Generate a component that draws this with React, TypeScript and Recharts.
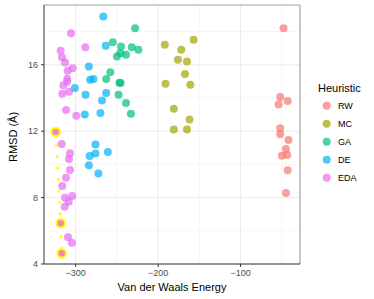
import { ScatterChart, Scatter, XAxis, YAxis, CartesianGrid, ReferenceLine, Label } from "recharts";

const heuristics = ["RW", "MC", "GA", "DE", "EDA"];
const colors = ["#F8766D", "#A3A500", "#00BF7D", "#00B0F6", "#E76BF3"];

const rwEnergy = [-48, -52, -43, -54, -52, -52, -42, -45, -50, -43.5, -43, -45];
const rwRmsd = [18.2, 14.06, 13.82, 13.6, 12.17, 11.81, 11.47, 10.93, 10.52, 10.57, 9.64, 8.28];

const mcEnergy = [-192, -157, -172, -176, -165, -167.5, -191, -161, -181, -162, -181, -165];
const mcRmsd = [17.2, 17.5, 16.9, 16.3, 16.2, 15.45, 14.85, 14.8, 13.35, 12.7, 12.1, 12.1];

const gaEnergy = [-228, -255, -245, -232, -224, -246, -239, -250, -258, -263, -247, -245.5, -248, -239, -233];
const gaRmsd = [18.2, 17.35, 17.1, 17.05, 16.9, 16.7, 16.6, 16.5, 15.55, 15.15, 14.92, 14.9, 14.2, 13.7, 13.05];

const deEnergy = [-266.5, -263.5, -284, -282.5, -278.5, -301, -263, -288, -268, -270, -289, -276, -261, -276, -283, -284, -272.5];
const deRmsd = [18.9, 17.15, 15.9, 15.1, 15.15, 14.6, 14.3, 14.2, 13.85, 13.1, 13, 11.2, 10.75, 10.65, 10.5, 9.95, 9.45];

const edaEnergy = [-305.7, -288.3, -318.2, -316.6, -312.9, -309.7, -303.6, -310.2, -310.2, -315, -316.2, -308.1, -311.7, -299.2, -316.9, -306.9, -308.1, -306.9, -311.7, -316.2, -312.9, -304.1, -308.5, -313.3, -309.3, -304.5];
const edaRmsd = [17.9, 17.05, 16.85, 16.45, 16.13, 15.64, 15.79, 15.16, 14.98, 14.77, 14.26, 14.38, 13.28, 12.93, 11.23, 10.67, 10.33, 9.66, 9.2, 8.7, 7.99, 8.1, 7.75, 7.45, 5.61, 5.28];

// best runs, ringed in yellow and joined by a dotted path
const bestEnergy = [-324.2, -318.2, -316.9];
const bestRmsd = [11.95, 6.45, 4.64];

const xTicks = [-300, -200, -100];
const yTicks = [4, 8, 12, 16];
const xMinor = [-250, -150, -50];
const yMinor = [6, 10, 14, 18];

const xDomain = [-338.4, -28];
const yDomain = [4, 19.6];

const zip = (xs: number[], ys: number[]) => xs.map((x, i) => ({ energy: x, rmsd: ys[i] }));

const series = [
  zip(rwEnergy, rwRmsd),
  zip(mcEnergy, mcRmsd),
  zip(gaEnergy, gaRmsd),
  zip(deEnergy, deRmsd),
  zip(edaEnergy, edaRmsd),
];
const best = zip(bestEnergy, bestRmsd);

const font = "'Liberation Sans', Arial, sans-serif";
const minus = (v: number) => String(v).replace("-", "\u2212");

const dot = (color: string) => (p: any) => (
  <circle cx={p.cx} cy={p.cy} r={4} fill={color} fillOpacity={0.7} stroke="none" />
);

const bestDot = (p: any) => (
  <circle cx={p.cx} cy={p.cy} r={4.3} fill="#EE8EA4" stroke="#FFFF00" strokeWidth={2} />
);

export default function App() {
  return (
    <div style={{ position: "absolute", left: 0, top: 0, width: 374, height: 299, background: "#fff" }}>
      <ScatterChart width={374} height={299} margin={{ top: 5, right: 74, left: 0, bottom: 0 }}>
        <CartesianGrid
          horizontalValues={yMinor}
          verticalValues={xMinor}
          stroke="#F2F2F2"
          strokeWidth={0.8}
        />
        <CartesianGrid
          horizontalValues={yTicks}
          verticalValues={xTicks}
          stroke="#EBEBEB"
          strokeWidth={1}
        />
        <XAxis
          type="number"
          dataKey="energy"
          domain={xDomain}
          ticks={xTicks}
          allowDataOverflow
          height={35}
          tickSize={3}
          tickMargin={3}
          tickFormatter={minus}
          stroke="#333"
          tick={{ fill: "#4D4D4D", fontSize: 9, fontFamily: font }}
        >
          <Label
            content={() => (
              <text x={172} y={291} textAnchor="middle" fontSize={11} fontFamily={font} fill="#000">
                Van der Waals Energy
              </text>
            )}
          />
        </XAxis>
        <YAxis
          type="number"
          dataKey="rmsd"
          domain={yDomain}
          ticks={yTicks}
          allowDataOverflow
          width={44}
          tickSize={3}
          tickMargin={3}
          stroke="#333"
          tick={{ fill: "#4D4D4D", fontSize: 9, fontFamily: font }}
        >
          <Label
            content={() => (
              <text
                x={14}
                y={137}
                transform="rotate(-90 14 137)"
                textAnchor="middle"
                dominantBaseline="middle"
                fontSize={11}
                fontFamily={font}
                fill="#000"
              >
                RMSD (Å)
              </text>
            )}
          />
        </YAxis>
        <ReferenceLine y={yDomain[1]} stroke="#A0A0A0" strokeWidth={1.2} />
        <ReferenceLine x={xDomain[1]} stroke="#A0A0A0" strokeWidth={1.2} />
        {series.map((d, i) => (
          <Scatter
            key={heuristics[i]}
            name={heuristics[i]}
            data={d}
            shape={dot(colors[i])}
            isAnimationActive={false}
          />
        ))}
        <Scatter
          name="best"
          data={best}
          line={{ stroke: "#FFFF00", strokeWidth: 2.5, strokeDasharray: "3 8.5" }}
          shape={bestDot}
          isAnimationActive={false}
        />
      </ScatterChart>
      <svg width={374} height={299} style={{ position: "absolute", left: 0, top: 0, pointerEvents: "none" }}>
        <text x={318} y={92} fontSize={11} fontFamily={font} fill="#000">
          Heuristic
        </text>
        {heuristics.map((h, i) => (
          <g key={h}>
            <circle cx={326.7} cy={105.7 + i * 18} r={4} fill={colors[i]} fillOpacity={0.7} />
            <text x={338} y={105.7 + i * 18} dominantBaseline="central" fontSize={9} fontFamily={font} fill="#000">
              {h}
            </text>
          </g>
        ))}
      </svg>
    </div>
  );
}
